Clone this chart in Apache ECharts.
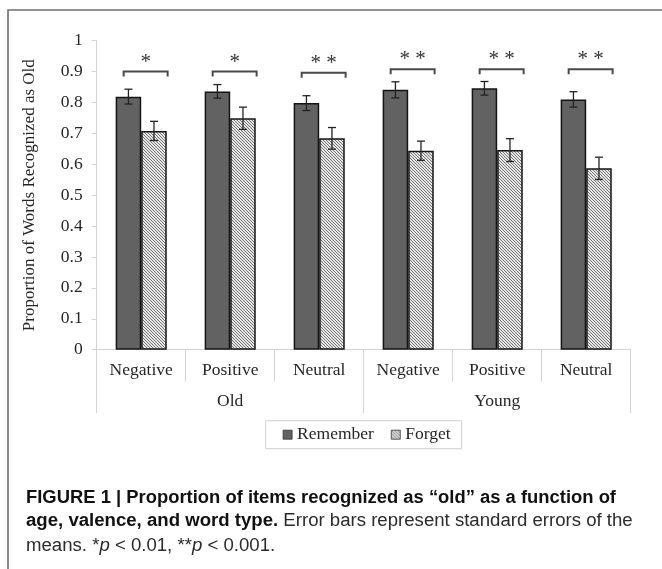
<!DOCTYPE html>
<html>
<head>
<meta charset="utf-8">
<script src="https://cdn.jsdelivr.net/npm/echarts@6/dist/echarts.min.js"></script>
<style>
  html, body { margin: 0; padding: 0; background: #fff; }
  #chart { width: 662px; height: 569px; }
</style>
</head>
<body>
<div id="chart"></div>
<script>
// Word types (inner axis) and age groups (outer axis)
const categories = ['Negative', 'Positive', 'Neutral', 'Negative', 'Positive', 'Neutral'];
const groups = ['Old', 'Young'];

// Mean proportion recognized as old, with standard errors
const remember    = [0.819, 0.836, 0.798, 0.841, 0.846, 0.810];
const rememberErr = [0.024, 0.022, 0.024, 0.026, 0.022, 0.025];
const forget      = [0.708, 0.749, 0.684, 0.644, 0.646, 0.587];
const forgetErr   = [0.031, 0.036, 0.035, 0.031, 0.037, 0.036];

// Significance brackets above each pair
const sigMarks      = ['*', '*', '* *', '* *', '* *', '* *'];
const bracketLevels = [0.900, 0.900, 0.896, 0.908, 0.908, 0.908];

const serif = '"Liberation Serif", "Times New Roman", serif';
const sans = '"Liberation Sans", Arial, sans-serif';
const BAR_FRAC = 0.287;

// Diagonal hatch tile for the "Forget" bars
function hatchPattern() {
  const c = document.createElement('canvas');
  c.width = 6; c.height = 6;
  const ctx = c.getContext('2d');
  const img = ctx.createImageData(6, 6);
  for (let y = 0; y < 6; y++) {
    for (let x = 0; x < 6; x++) {
      const on = ((x - y) % 3 + 3) % 3 === 0;
      const v = on ? 115 : 232;
      const i = (y * 6 + x) * 4;
      img.data[i] = v; img.data[i + 1] = v; img.data[i + 2] = v; img.data[i + 3] = 255;
    }
  }
  ctx.putImageData(img, 0, 0);
  return { image: c, repeat: 'repeat' };
}

function errorSeries(values, errs, side) {
  return {
    type: 'custom',
    xAxisIndex: 0,
    z: 5,
    silent: true,
    clip: false,
    data: values.map((v, i) => [i, v, errs[i]]),
    encode: { x: 0, y: 1 },
    renderItem: function (params, api) {
      const idx = api.value(0), v = api.value(1), e = api.value(2);
      const bandW = api.size([1, 0])[0];
      const xc = api.coord([idx, v])[0] + side * bandW * BAR_FRAC / 2;
      const yHi = api.coord([idx, v + e])[1];
      const yLo = api.coord([idx, v - e])[1];
      const cap = 4;
      const st = { stroke: '#222', lineWidth: 1.3 };
      return {
        type: 'group',
        children: [
          { type: 'line', shape: { x1: xc, y1: yHi, x2: xc, y2: yLo }, style: st },
          { type: 'line', shape: { x1: xc - cap, y1: yHi, x2: xc + cap, y2: yHi }, style: st },
          { type: 'line', shape: { x1: xc - cap, y1: yLo, x2: xc + cap, y2: yLo }, style: st }
        ]
      };
    }
  };
}

const bracketSeries = {
  type: 'custom',
  xAxisIndex: 0,
  z: 5,
  silent: true,
  clip: false,
  data: bracketLevels.map((lv, i) => [i, lv]),
  encode: { x: 0, y: 1 },
  renderItem: function (params, api) {
    const idx = api.value(0), lv = api.value(1);
    const bandW = api.size([1, 0])[0];
    const p = api.coord([idx, lv]);
    const xc = p[0] + bandW * 0.05;
    const hw = bandW * 0.247;
    const y = p[1];
    return {
      type: 'group',
      children: [
        {
          type: 'polyline',
          shape: { points: [[xc - hw, y + 5], [xc - hw, y], [xc + hw, y], [xc + hw, y + 5]] },
          style: { stroke: '#4a4a4a', lineWidth: 2, fill: null }
        },
        {
          type: 'text',
          x: xc, y: y + 1,
          style: {
            text: sigMarks[idx],
            font: '21px ' + serif,
            fill: '#333',
            align: 'center',
            verticalAlign: 'bottom'
          }
        }
      ]
    };
  }
};

// Caption laid out run by run, squeezed to the column width
const measureCtx = document.createElement('canvas').getContext('2d');
function runFont(r) {
  return (r.italic ? 'italic ' : '') + (r.bold ? 'bold ' : '') + '18px ' + sans;
}
function lineWidth(runs) {
  return runs.reduce((w, r) => { measureCtx.font = runFont(r); return w + measureCtx.measureText(r.text).width; }, 0);
}
function captionLine(runs, x, y, scale) {
  const els = [];
  let cx = x;
  runs.forEach(r => {
    measureCtx.font = runFont(r);
    const w = measureCtx.measureText(r.text).width;
    els.push({
      type: 'text', x: cx, y: y, scaleX: scale,
      style: {
        text: r.text, font: runFont(r),
        fill: r.bold ? '#111' : '#2b2b2b',
        verticalAlign: 'middle', align: 'left'
      }
    });
    cx += w * scale;
  });
  return els;
}
const cap1 = [{ text: 'FIGURE 1 | Proportion of items recognized as \u201Cold\u201D as a function of', bold: true }];
const cap2 = [
  { text: 'age, valence, and word type.', bold: true },
  { text: ' Error bars represent standard errors of the' }
];
const cap3 = [
  { text: 'means. *' }, { text: 'p', italic: true },
  { text: ' < 0.01, **' }, { text: 'p', italic: true },
  { text: ' < 0.001.' }
];
const s1 = 590 / lineWidth(cap1);
const s2 = 606.7 / lineWidth(cap2);

const chart = echarts.init(document.getElementById('chart'), null, { renderer: 'canvas' });
chart.setOption({
  animation: false,
  backgroundColor: '#fff',
  grid: { left: 96.7, right: 31.3, top: 40.7, bottom: 219.3, containLabel: false },
  legend: {
    data: ['Remember', 'Forget'],
    left: 265.7, top: 420.7,
    padding: [5, 11, 5, 17],
    itemWidth: 9, itemHeight: 9, itemGap: 17,
    icon: 'rect',
    borderColor: '#cfcfcf', borderWidth: 1,
    itemStyle: { borderColor: '#333', borderWidth: 0.8 },
    textStyle: { fontFamily: serif, fontSize: 17.5, color: '#262626' },
    selectedMode: false
  },
  xAxis: [
    {
      type: 'category',
      data: categories,
      position: 'bottom',
      axisLine: { show: true, lineStyle: { color: '#d4d4d4', width: 1 } },
      axisTick: { show: true, interval: 0, length: 31.7, lineStyle: { color: '#d4d4d4' } },
      axisLabel: { interval: 0, margin: 12, fontFamily: serif, fontSize: 17.5, color: '#262626' },
      splitLine: { show: false }
    },
    {
      type: 'category',
      data: groups,
      position: 'bottom',
      axisLine: { show: false },
      axisTick: { show: true, interval: 0, length: 63.3, lineStyle: { color: '#d4d4d4' } },
      axisLabel: { interval: 0, margin: 43, fontFamily: serif, fontSize: 17.5, color: '#262626' },
      splitLine: { show: false }
    }
  ],
  yAxis: {
    type: 'value',
    min: 0, max: 1, interval: 0.1,
    name: 'Proportion of Words Recognized as Old',
    nameLocation: 'middle',
    nameRotate: 90,
    nameGap: 59,
    nameTextStyle: { fontFamily: serif, fontSize: 17, color: '#262626' },
    axisLine: { show: true, lineStyle: { color: '#d4d4d4' } },
    axisTick: { show: true, length: 5, lineStyle: { color: '#d4d4d4' } },
    axisLabel: { margin: 14, fontFamily: serif, fontSize: 17.5, color: '#262626' },
    splitLine: { show: false }
  },
  series: [
    {
      name: 'Remember', type: 'bar', xAxisIndex: 0,
      data: remember,
      barWidth: (BAR_FRAC * 100) + '%', barGap: '0%',
      itemStyle: { color: '#626262', borderColor: '#151515', borderWidth: 1.5 }
    },
    {
      name: 'Forget', type: 'bar', xAxisIndex: 0,
      data: forget,
      barWidth: (BAR_FRAC * 100) + '%', barGap: '0%',
      itemStyle: { color: hatchPattern(), borderColor: '#151515', borderWidth: 1.5 }
    },
    errorSeries(remember, rememberErr, -1),
    errorSeries(forget, forgetErr, 1),
    bracketSeries
  ],
  graphic: [
    {
      type: 'rect', silent: true,
      shape: { x: 8, y: 10, width: 720, height: 620 },
      style: { fill: null, stroke: '#6e6e6e', lineWidth: 1.6 }
    }
  ].concat(
    captionLine(cap1, 26, 498.5, s1),
    captionLine(cap2, 26, 521.5, s2),
    captionLine(cap3, 26, 546, s2)
  )
});
</script>
</body>
</html>
